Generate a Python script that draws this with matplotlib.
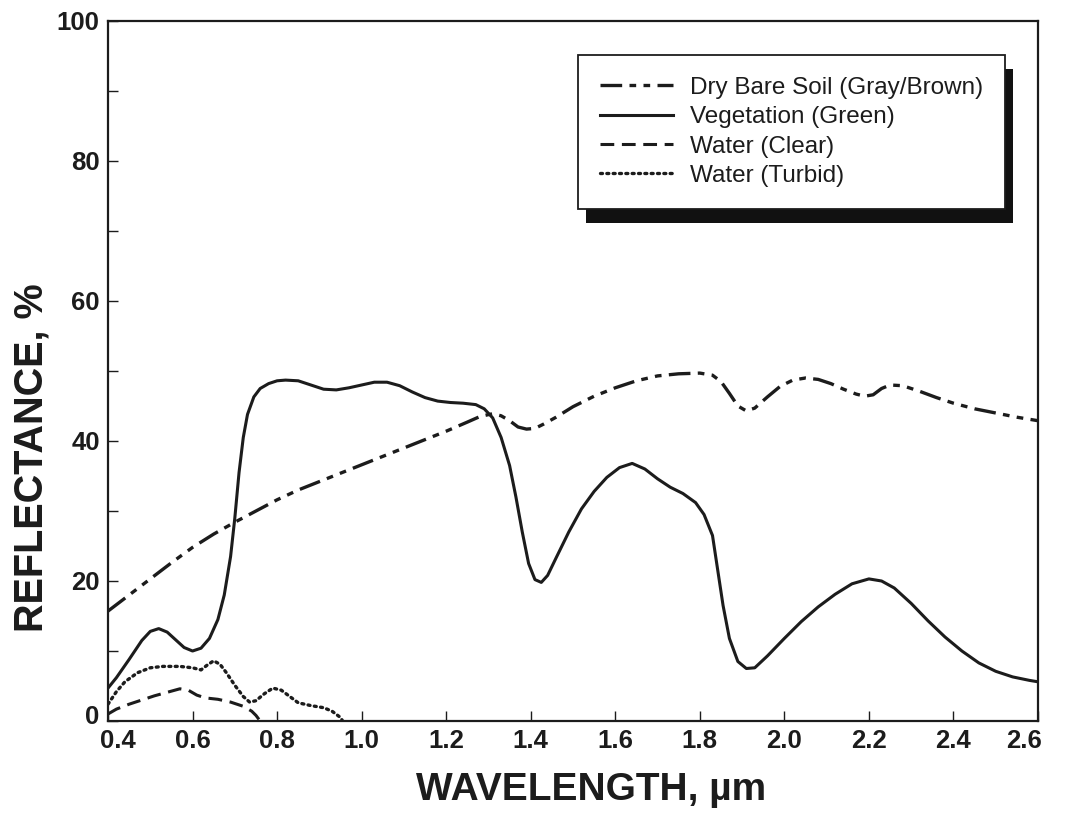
import matplotlib
matplotlib.use("Agg")
import matplotlib.pyplot as plt
from matplotlib.patches import Rectangle
from matplotlib.transforms import IdentityTransform, ScaledTranslation
from matplotlib.ticker import MultipleLocator

plt.rcParams['font.family'] = ['Liberation Sans', 'DejaVu Sans']

# ---- data ----
soil_x = [0.40, 0.45, 0.50, 0.55, 0.60, 0.65, 0.70, 0.75, 0.80, 0.85, 0.90, 0.95, 1.00,
          1.05, 1.10, 1.15, 1.20, 1.25, 1.28, 1.31, 1.33, 1.35, 1.37, 1.39, 1.41, 1.43,
          1.46, 1.50, 1.55, 1.60, 1.65, 1.70, 1.75, 1.80, 1.83, 1.85, 1.87, 1.89, 1.91,
          1.93, 1.96, 1.99, 2.02, 2.05, 2.08, 2.11, 2.14, 2.17, 2.19, 2.21, 2.23, 2.25,
          2.28, 2.32, 2.36, 2.40, 2.45, 2.50, 2.55, 2.60]
soil_y = [15.7, 18.0, 20.3, 22.6, 24.8, 26.7, 28.4, 30.0, 31.6, 33.0, 34.2, 35.4, 36.6,
          37.8, 39.0, 40.2, 41.4, 42.7, 43.5, 43.9, 43.6, 42.9, 42.0, 41.7, 41.8, 42.4,
          43.4, 44.9, 46.4, 47.6, 48.6, 49.3, 49.6, 49.7, 49.4, 48.5, 46.8, 45.0, 44.3,
          44.7, 46.3, 47.8, 48.7, 49.0, 48.8, 48.2, 47.4, 46.7, 46.4, 46.6, 47.5, 48.0,
          47.9, 47.1, 46.2, 45.4, 44.6, 44.0, 43.4, 42.9]

veg_x = [0.40, 0.42, 0.45, 0.48, 0.50, 0.52, 0.54, 0.56, 0.58, 0.60, 0.62, 0.64, 0.66,
         0.675, 0.69, 0.70, 0.71, 0.72, 0.73, 0.745, 0.76, 0.78, 0.80, 0.82, 0.85, 0.88,
         0.91, 0.94, 0.97, 1.00, 1.03, 1.06, 1.09, 1.12, 1.15, 1.18, 1.21, 1.24, 1.27,
         1.29, 1.31, 1.33, 1.35, 1.365, 1.38, 1.395, 1.41, 1.425, 1.44, 1.46, 1.49, 1.52,
         1.55, 1.58, 1.61, 1.64, 1.67, 1.70, 1.73, 1.76, 1.79, 1.81, 1.83, 1.84, 1.855,
         1.87, 1.89, 1.91, 1.93, 1.96, 2.00, 2.04, 2.08, 2.12, 2.16, 2.20, 2.23, 2.26,
         2.30, 2.34, 2.38, 2.42, 2.46, 2.50, 2.54, 2.58, 2.60]
veg_y = [4.7, 6.2, 8.8, 11.5, 12.8, 13.2, 12.7, 11.6, 10.5, 10.0, 10.4, 11.8, 14.5,
         18.0, 23.5, 29.0, 35.5, 40.5, 43.8, 46.3, 47.5, 48.2, 48.6, 48.7, 48.6, 48.0,
         47.4, 47.3, 47.6, 48.0, 48.4, 48.4, 47.9, 47.0, 46.2, 45.7, 45.5, 45.4, 45.2,
         44.6, 43.3, 40.5, 36.5, 32.0, 27.0, 22.5, 20.2, 19.8, 20.8, 23.3, 27.0, 30.3,
         32.8, 34.8, 36.2, 36.8, 36.0, 34.6, 33.4, 32.5, 31.2, 29.5, 26.5, 22.5, 16.5,
         11.8, 8.5, 7.5, 7.6, 9.3, 11.8, 14.2, 16.3, 18.1, 19.6, 20.3, 20.0, 19.0,
         16.8, 14.3, 12.0, 10.0, 8.3, 7.1, 6.3, 5.8, 5.6]

clear_x = [0.40, 0.42, 0.45, 0.48, 0.51, 0.54, 0.57, 0.59, 0.61, 0.63, 0.66, 0.69,
           0.72, 0.74, 0.75, 0.76]
clear_y = [1.0, 1.7, 2.4, 3.0, 3.6, 4.1, 4.6, 4.4, 3.7, 3.3, 3.1, 2.7,
           2.1, 1.4, 0.8, 0.0]

turbid_x = [0.40, 0.42, 0.44, 0.47, 0.50, 0.53, 0.57, 0.60, 0.62, 0.635, 0.65, 0.665,
            0.68, 0.70, 0.72, 0.735, 0.75, 0.77, 0.79, 0.81, 0.83, 0.85, 0.88, 0.91,
            0.93, 0.95, 0.955]
turbid_y = [2.4, 4.2, 5.6, 6.9, 7.6, 7.8, 7.8, 7.6, 7.3, 8.0, 8.6, 8.1,
            6.9, 5.1, 3.5, 2.7, 2.9, 3.9, 4.7, 4.4, 3.5, 2.6, 2.2, 1.9,
            1.4, 0.5, 0.0]

labels = ["Dry Bare Soil (Gray/Brown)", "Vegetation (Green)", "Water (Clear)", "Water (Turbid)"]
x_ticks = [0.4, 0.6, 0.8, 1.0, 1.2, 1.4, 1.6, 1.8, 2.0, 2.2, 2.4, 2.6]
y_ticks = [0, 20, 40, 60, 80, 100]

# ---- figure ----
W, H = 1069, 815
fig = plt.figure(figsize=(W / 100, H / 100), dpi=100)
ax = fig.add_axes([108 / W, 1 - 721 / H, (1038 - 108) / W, (721 - 21) / H])

ink = '#1c1c1c'
l1, = ax.plot(soil_x, soil_y, color=ink, lw=2.4, dashes=(6.5, 2.2, 2.0, 2.2, 2.0, 2.2),
              dash_capstyle='butt')
l2, = ax.plot(veg_x, veg_y, color=ink, lw=2.2, solid_joinstyle='round')
l3, = ax.plot(clear_x, clear_y, color=ink, lw=2.2, dashes=(4.5, 2.5))
l4, = ax.plot(turbid_x, turbid_y, color=ink, lw=2.4, dashes=(0.6, 1.3),
              dash_capstyle='round')

ax.set_xlim(0.4, 2.6)
ax.set_ylim(0, 100)
ax.set_xticks(x_ticks)
ax.set_xticklabels([f"{v:.1f}" for v in x_ticks])
ax.set_yticks(y_ticks)
ax.yaxis.set_minor_locator(MultipleLocator(10))
ax.tick_params(axis='both', which='both', direction='in', color=ink, width=1.0)
ax.tick_params(axis='both', which='major', length=7, labelsize=18.5, pad=6, labelcolor=ink)
ax.tick_params(axis='y', which='minor', length=7)
for lab in ax.get_xticklabels() + ax.get_yticklabels():
    lab.set_fontweight('bold')
for sp in ax.spines.values():
    sp.set_linewidth(1.6)
    sp.set_color(ink)

# nudge the end labels inward as in the reference
xl = ax.get_xticklabels()
xl[0].set_transform(xl[0].get_transform() + ScaledTranslation(10 / 100, 0, fig.dpi_scale_trans))
xl[-1].set_transform(xl[-1].get_transform() + ScaledTranslation(-14 / 100, 0, fig.dpi_scale_trans))
yl = ax.get_yticklabels()
yl[0].set_transform(yl[0].get_transform() + ScaledTranslation(0, 6 / 100, fig.dpi_scale_trans))

fig.text(591 / W, 1 - 790 / H, "WAVELENGTH, µm", ha='center', va='center',
         fontsize=28, fontweight='bold', color=ink)
fig.text(32 / W, 1 - 458 / H, "REFLECTANCE, %", ha='center', va='center',
         rotation=90, fontsize=28.5, fontweight='bold', color=ink)

leg = ax.legend([l1, l2, l3, l4], labels, loc='upper left',
                bbox_to_anchor=(578 / W, 1 - 55 / H), bbox_transform=fig.transFigure,
                fontsize=17.5, frameon=True, fancybox=False, framealpha=1,
                edgecolor=ink, borderpad=0.9, labelspacing=0.3, handlelength=3.0,
                handletextpad=0.7, borderaxespad=0)
leg.get_frame().set_linewidth(1.3)
for t in leg.get_texts():
    t.set_color(ink)

fig.canvas.draw()
bb = leg.get_window_extent()
shadow = Rectangle((bb.x0 + 8, bb.y0 - 14), bb.width, bb.height, transform=IdentityTransform(),
                   facecolor='#111111', edgecolor='none', zorder=4.5, clip_on=False)
ax.add_patch(shadow)

fig.savefig("out.png", dpi=100)
